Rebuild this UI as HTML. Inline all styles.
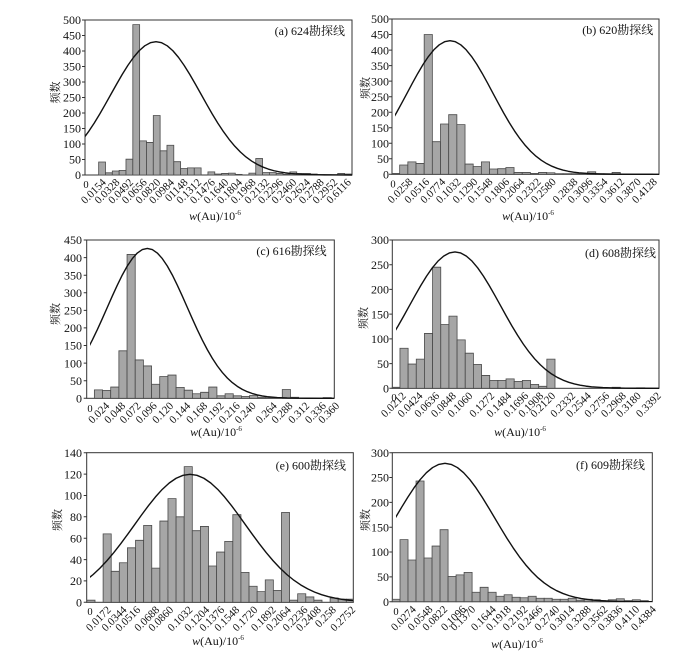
<!DOCTYPE html>
<html><head><meta charset="utf-8">
<style>
html,body{margin:0;padding:0;background:#fff;}
svg{display:block;}
.xt{font-family:"Liberation Serif","Noto Serif CJK SC",serif;font-size:11px;text-anchor:end;fill:#111;}
.x0{font-family:"Liberation Serif","Noto Serif CJK SC",serif;font-size:10.5px;text-anchor:middle;fill:#111;}
.yt{font-family:"Liberation Serif","Noto Serif CJK SC",serif;font-size:12px;text-anchor:end;fill:#111;}
.tt{font-family:"Liberation Serif","Noto Serif CJK SC",serif;font-size:12px;text-anchor:end;fill:#111;}
.at{font-family:"Liberation Serif","Noto Serif CJK SC",serif;font-size:12px;text-anchor:middle;fill:#111;}
.yl{font-family:"Liberation Serif","Noto Serif CJK SC",serif;font-size:11px;text-anchor:middle;fill:#111;}
.bars rect{fill:#a6a6a6;stroke:#4a4a4a;stroke-width:0.8;vector-effect:non-scaling-stroke;}
.cv{fill:none;stroke:#111;stroke-width:1.4;vector-effect:non-scaling-stroke;stroke-linejoin:round;}
.fr{fill:#fff;stroke:#333;stroke-width:1;}
.tk{stroke:#333;stroke-width:1;fill:none;}
</style></head>
<body>
<svg width="700" height="657" viewBox="0 0 700 657" xmlns="http://www.w3.org/2000/svg">
<defs>
<clipPath id="ca"><rect x="85" y="15" width="267" height="161"/></clipPath>
<clipPath id="cb"><rect x="395" y="14" width="264" height="161"/></clipPath>
<clipPath id="cc"><rect x="90" y="235" width="244" height="164"/></clipPath>
<clipPath id="cd"><rect x="396" y="235" width="263" height="154"/></clipPath>
<clipPath id="ce"><rect x="90" y="448" width="263" height="155"/></clipPath>
<clipPath id="cf"><rect x="396" y="448" width="256" height="154"/></clipPath>
</defs>

<!-- ================= Panel A ================= -->
<rect class="fr" x="85" y="20" width="267" height="155"/>
<g class="bars" transform="translate(85,175) scale(6.83,-0.31)">
<rect x="2" y="0" width="1" height="42"/><rect x="3" y="0" width="1" height="7"/><rect x="4" y="0" width="1" height="13"/><rect x="5" y="0" width="1" height="15"/><rect x="6" y="0" width="1" height="51"/><rect x="7" y="0" width="1" height="485"/><rect x="8" y="0" width="1" height="110"/><rect x="9" y="0" width="1" height="105"/><rect x="10" y="0" width="1" height="192"/><rect x="11" y="0" width="1" height="78"/><rect x="12" y="0" width="1" height="96"/><rect x="13" y="0" width="1" height="43"/><rect x="14" y="0" width="1" height="21"/><rect x="15" y="0" width="1" height="23"/><rect x="16" y="0" width="1" height="23"/><rect x="18" y="0" width="1" height="10"/><rect x="19" y="0" width="1" height="3"/><rect x="20" y="0" width="1" height="5"/><rect x="21" y="0" width="1" height="6"/><rect x="22" y="0" width="1" height="2"/><rect x="24" y="0" width="1" height="6"/><rect x="25" y="0" width="1" height="53"/><rect x="26" y="0" width="1" height="8"/><rect x="27" y="0" width="1" height="8"/><rect x="28" y="0" width="1" height="5"/><rect x="29" y="0" width="1" height="2"/><rect x="30" y="0" width="1" height="10"/><rect x="31" y="0" width="1" height="5"/><rect x="32" y="0" width="1" height="5"/><rect x="33" y="0" width="1" height="3"/><rect x="34" y="0" width="1" height="1"/><rect x="35" y="0" width="1" height="1"/><rect x="36" y="0" width="1" height="1"/><rect x="37" y="0" width="1" height="5"/><rect x="38" y="0" width="1" height="3"/>
</g>
<g clip-path="url(#ca)"><path class="cv" transform="translate(156,175) scale(45,-133.3)" d="M-3,0.0111 L-2.875,0.016 -2.75,0.0228 -2.625,0.0319 -2.5,0.0439 -2.375,0.0596 -2.25,0.0796 -2.125,0.1046 -2,0.1353 -1.875,0.1724 -1.75,0.2163 -1.625,0.2671 -1.5,0.3247 -1.375,0.3886 -1.25,0.4578 -1.125,0.5311 -1,0.6065 -0.875,0.6819 -0.75,0.7548 -0.625,0.8226 -0.5,0.8825 -0.375,0.9321 -0.25,0.9692 -0.125,0.9922 0,1 0.125,0.9922 0.25,0.9692 0.375,0.9321 0.5,0.8825 0.625,0.8226 0.75,0.7548 0.875,0.6819 1,0.6065 1.125,0.5311 1.25,0.4578 1.375,0.3886 1.5,0.3247 1.625,0.2671 1.75,0.2163 1.875,0.1724 2,0.1353 2.125,0.1046 2.25,0.0796 2.375,0.0596 2.5,0.0439 2.625,0.0319 2.75,0.0228 2.875,0.016 3,0.0111 3.25,0.0051 3.5,0.0022 3.75,0.0009 4,0.0003 4.5,0 6,0"/></g>
<path class="tk" d="M82,175h3M82,159.5h3M82,144h3M82,128.5h3M82,113h3M82,97.5h3M82,82h3M82,66.5h3M82,51h3M82,35.5h3M82,20h3"/>
<g class="yt">
<text x="81" y="179.2">0</text><text x="81" y="163.7">50</text><text x="81" y="148.2">100</text><text x="81" y="132.7">150</text><text x="81" y="117.2">200</text><text x="81" y="101.7">250</text><text x="81" y="86.2">300</text><text x="81" y="70.7">350</text><text x="81" y="55.2">400</text><text x="81" y="39.7">450</text><text x="81" y="24.2">500</text>
</g>
<text class="x0" x="86" y="188">0</text>
<g class="xt">
<text transform="translate(106.7,183) rotate(-45)">0.0154</text>
<text transform="translate(120.3,183) rotate(-45)">0.0328</text>
<text transform="translate(133.9,183) rotate(-45)">0.0492</text>
<text transform="translate(147.5,183) rotate(-45)">0.0656</text>
<text transform="translate(161.1,183) rotate(-45)">0.0820</text>
<text transform="translate(174.8,183) rotate(-45)">0.0984</text>
<text transform="translate(188.4,183) rotate(-45)">01148</text>
<text transform="translate(202,183) rotate(-45)">0.1312</text>
<text transform="translate(215.6,183) rotate(-45)">0.1476</text>
<text transform="translate(229.2,183) rotate(-45)">0.1640</text>
<text transform="translate(242.8,183) rotate(-45)">0.1804</text>
<text transform="translate(256.4,183) rotate(-45)">0.1968</text>
<text transform="translate(270,183) rotate(-45)">0.2132</text>
<text transform="translate(283.6,183) rotate(-45)">0.2296</text>
<text transform="translate(297.2,183) rotate(-45)">0.2460</text>
<text transform="translate(310.8,183) rotate(-45)">0.2624</text>
<text transform="translate(324.5,183) rotate(-45)">0.2788</text>
<text transform="translate(338.1,183) rotate(-45)">0.2952</text>
<text transform="translate(351.7,183) rotate(-45)">0.6116</text>
</g>
<text class="tt" x="345" y="35">(a) 624勘探线</text>
<text class="at" x="215" y="220"><tspan font-style="italic">w</tspan>(Au)/10<tspan font-size="7" dy="-5">-6</tspan></text>
<text class="yl" transform="translate(59,92.5) rotate(-90)">频数</text>

<!-- ================= Panel B ================= -->
<rect class="fr" x="392" y="19" width="267" height="155.3"/>
<g class="bars" transform="translate(391.5,174.3) scale(8.17,-0.3106)">
<rect x="0.06" y="0" width="0.94" height="3"/><rect x="1" y="0" width="1" height="30"/><rect x="2" y="0" width="1" height="40"/><rect x="3" y="0" width="1" height="35"/><rect x="4" y="0" width="1" height="450"/><rect x="5" y="0" width="1" height="105"/><rect x="6" y="0" width="1" height="162"/><rect x="7" y="0" width="1" height="192"/><rect x="8" y="0" width="1" height="160"/><rect x="9" y="0" width="1" height="33"/><rect x="10" y="0" width="1" height="25"/><rect x="11" y="0" width="1" height="40"/><rect x="12" y="0" width="1" height="17"/><rect x="13" y="0" width="1" height="18"/><rect x="14" y="0" width="1" height="22"/><rect x="15" y="0" width="1" height="6"/><rect x="16" y="0" width="1" height="6"/><rect x="17" y="0" width="1" height="3"/><rect x="18" y="0" width="1" height="6"/><rect x="19" y="0" width="1" height="5"/><rect x="20" y="0" width="1" height="2"/><rect x="21" y="0" width="1" height="2"/><rect x="22" y="0" width="1" height="2"/><rect x="23" y="0" width="1" height="1"/><rect x="24" y="0" width="1" height="8"/><rect x="25" y="0" width="1" height="2"/><rect x="26" y="0" width="1" height="2"/><rect x="27" y="0" width="1" height="6"/><rect x="28" y="0" width="1" height="1"/><rect x="29" y="0" width="1" height="1"/><rect x="30" y="0" width="1" height="1"/><rect x="31" y="0" width="1" height="1"/>
</g>
<g clip-path="url(#cb)"><path class="cv" transform="translate(450,174.3) scale(43,-133.6)" d="M-3,0.0111 L-2.875,0.016 -2.75,0.0228 -2.625,0.0319 -2.5,0.0439 -2.375,0.0596 -2.25,0.0796 -2.125,0.1046 -2,0.1353 -1.875,0.1724 -1.75,0.2163 -1.625,0.2671 -1.5,0.3247 -1.375,0.3886 -1.25,0.4578 -1.125,0.5311 -1,0.6065 -0.875,0.6819 -0.75,0.7548 -0.625,0.8226 -0.5,0.8825 -0.375,0.9321 -0.25,0.9692 -0.125,0.9922 0,1 0.125,0.9922 0.25,0.9692 0.375,0.9321 0.5,0.8825 0.625,0.8226 0.75,0.7548 0.875,0.6819 1,0.6065 1.125,0.5311 1.25,0.4578 1.375,0.3886 1.5,0.3247 1.625,0.2671 1.75,0.2163 1.875,0.1724 2,0.1353 2.125,0.1046 2.25,0.0796 2.375,0.0596 2.5,0.0439 2.625,0.0319 2.75,0.0228 2.875,0.016 3,0.0111 3.25,0.0051 3.5,0.0022 3.75,0.0009 4,0.0003 4.5,0 7,0"/></g>
<path class="tk" d="M389,174.3h3M389,158.8h3M389,143.2h3M389,127.7h3M389,112.2h3M389,96.7h3M389,81.1h3M389,65.6h3M389,50.1h3M389,34.5h3M389,19h3"/>
<g class="yt">
<text x="389" y="178.5">0</text><text x="389" y="163">50</text><text x="389" y="147.4">100</text><text x="389" y="131.9">150</text><text x="389" y="116.4">200</text><text x="389" y="100.9">250</text><text x="389" y="85.3">300</text><text x="389" y="69.8">350</text><text x="389" y="54.3">400</text><text x="389" y="38.7">450</text><text x="389" y="23.2">500</text>
</g>
<text class="x0" x="393" y="187.5">0</text>
<g class="xt">
<text transform="translate(413.3,182.5) rotate(-45)">0.0258</text>
<text transform="translate(430,182.5) rotate(-45)">0.0516</text>
<text transform="translate(446,182.5) rotate(-45)">0.0774</text>
<text transform="translate(461.7,182.5) rotate(-45)">0.1032</text>
<text transform="translate(478.3,182.5) rotate(-45)">0.1290</text>
<text transform="translate(493.3,182.5) rotate(-45)">0.1548</text>
<text transform="translate(510,182.5) rotate(-45)">0.1806</text>
<text transform="translate(525,182.5) rotate(-45)">0.2064</text>
<text transform="translate(541.7,182.5) rotate(-45)">0.2322</text>
<text transform="translate(556.7,182.5) rotate(-45)">0.2580</text>
<text transform="translate(578.3,182.5) rotate(-45)">0.2838</text>
<text transform="translate(593.3,182.5) rotate(-45)">0.3096</text>
<text transform="translate(608.3,182.5) rotate(-45)">0.3354</text>
<text transform="translate(625,182.5) rotate(-45)">0.3612</text>
<text transform="translate(641.7,182.5) rotate(-45)">0.3870</text>
<text transform="translate(657.7,182.5) rotate(-45)">0.4128</text>
</g>
<text class="tt" x="653.3" y="34">(b) 620勘探线</text>
<text class="at" x="528" y="220"><tspan font-style="italic">w</tspan>(Au)/10<tspan font-size="7" dy="-5">-6</tspan></text>
<text class="yl" transform="translate(369,88) rotate(-90)">频数</text>

<!-- ================= Panel C ================= -->
<rect class="fr" x="86.7" y="240" width="247.6" height="158.3"/>
<g class="bars" transform="translate(86.2,398.3) scale(8.17,-0.3518)">
<rect x="1" y="0" width="1" height="24"/><rect x="2" y="0" width="1" height="22"/><rect x="3" y="0" width="1" height="32"/><rect x="4" y="0" width="1" height="135"/><rect x="5" y="0" width="1" height="409"/><rect x="6" y="0" width="1" height="109"/><rect x="7" y="0" width="1" height="92"/><rect x="8" y="0" width="1" height="40"/><rect x="9" y="0" width="1" height="62"/><rect x="10" y="0" width="1" height="66"/><rect x="11" y="0" width="1" height="31"/><rect x="12" y="0" width="1" height="23"/><rect x="13" y="0" width="1" height="13"/><rect x="14" y="0" width="1" height="17"/><rect x="15" y="0" width="1" height="32"/><rect x="16" y="0" width="1" height="7"/><rect x="17" y="0" width="1" height="13"/><rect x="18" y="0" width="1" height="7"/><rect x="19" y="0" width="1" height="5"/><rect x="20" y="0" width="1" height="8"/><rect x="21" y="0" width="1" height="3"/><rect x="22" y="0" width="1" height="1"/><rect x="24" y="0" width="1" height="25"/><rect x="25" y="0" width="1" height="3"/><rect x="29" y="0" width="1" height="2"/>
</g>
<g clip-path="url(#cc)"><path class="cv" transform="translate(147.3,398.3) scale(40,-149.9)" d="M-3,0.0111 L-2.875,0.016 -2.75,0.0228 -2.625,0.0319 -2.5,0.0439 -2.375,0.0596 -2.25,0.0796 -2.125,0.1046 -2,0.1353 -1.875,0.1724 -1.75,0.2163 -1.625,0.2671 -1.5,0.3247 -1.375,0.3886 -1.25,0.4578 -1.125,0.5311 -1,0.6065 -0.875,0.6819 -0.75,0.7548 -0.625,0.8226 -0.5,0.8825 -0.375,0.9321 -0.25,0.9692 -0.125,0.9922 0,1 0.125,0.9922 0.25,0.9692 0.375,0.9321 0.5,0.8825 0.625,0.8226 0.75,0.7548 0.875,0.6819 1,0.6065 1.125,0.5311 1.25,0.4578 1.375,0.3886 1.5,0.3247 1.625,0.2671 1.75,0.2163 1.875,0.1724 2,0.1353 2.125,0.1046 2.25,0.0796 2.375,0.0596 2.5,0.0439 2.625,0.0319 2.75,0.0228 2.875,0.016 3,0.0111 3.25,0.0051 3.5,0.0022 3.75,0.0009 4,0.0003 4.5,0 7,0"/></g>
<path class="tk" d="M83.7,398.3h3M83.7,380.7h3M83.7,363.1h3M83.7,345.5h3M83.7,327.9h3M83.7,310.35h3M83.7,292.8h3M83.7,275.2h3M83.7,257.6h3M83.7,240h3"/>
<g class="yt">
<text x="82" y="402.5">0</text><text x="82" y="384.9">50</text><text x="82" y="367.3">100</text><text x="82" y="349.7">150</text><text x="82" y="332.1">200</text><text x="82" y="314.6">250</text><text x="82" y="297">300</text><text x="82" y="279.4">350</text><text x="82" y="261.8">400</text><text x="82" y="244.2">450</text>
</g>
<text class="x0" x="90" y="412">0</text>
<g class="xt">
<text transform="translate(110,406.5) rotate(-45)">0.024</text>
<text transform="translate(126,406.5) rotate(-45)">0.048</text>
<text transform="translate(141.5,406.5) rotate(-45)">0.072</text>
<text transform="translate(157.5,406.5) rotate(-45)">0.096</text>
<text transform="translate(174,406.5) rotate(-45)">0.120</text>
<text transform="translate(191,406.5) rotate(-45)">0.144</text>
<text transform="translate(208,406.5) rotate(-45)">0.168</text>
<text transform="translate(224.5,406.5) rotate(-45)">0.192</text>
<text transform="translate(240.5,406.5) rotate(-45)">0.216</text>
<text transform="translate(256.5,406.5) rotate(-45)">0.240</text>
<text transform="translate(277.5,406.5) rotate(-45)">0.264</text>
<text transform="translate(293.3,406.5) rotate(-45)">0.288</text>
<text transform="translate(310,406.5) rotate(-45)">0.312</text>
<text transform="translate(326.7,406.5) rotate(-45)">0.336</text>
<text transform="translate(340,406.5) rotate(-45)">0.360</text>
</g>
<text class="tt" x="326.7" y="255">(c) 616勘探线</text>
<text class="at" x="216" y="436"><tspan font-style="italic">w</tspan>(Au)/10<tspan font-size="7" dy="-5">-6</tspan></text>
<text class="yl" transform="translate(59,314) rotate(-90)">频数</text>

<!-- ================= Panel D ================= -->
<rect class="fr" x="392.3" y="240" width="266.7" height="148.3"/>
<g class="bars" transform="translate(391.8,388.3) scale(8.16,-0.4943)">
<rect x="0.06" y="0" width="0.94" height="2"/><rect x="1" y="0" width="1" height="81"/><rect x="2" y="0" width="1" height="49"/><rect x="3" y="0" width="1" height="59"/><rect x="4" y="0" width="1" height="111"/><rect x="5" y="0" width="1" height="245"/><rect x="6" y="0" width="1" height="129"/><rect x="7" y="0" width="1" height="146"/><rect x="8" y="0" width="1" height="98"/><rect x="9" y="0" width="1" height="71"/><rect x="10" y="0" width="1" height="48"/><rect x="11" y="0" width="1" height="26"/><rect x="12" y="0" width="1" height="16"/><rect x="13" y="0" width="1" height="16"/><rect x="14" y="0" width="1" height="19"/><rect x="15" y="0" width="1" height="14"/><rect x="16" y="0" width="1" height="16"/><rect x="17" y="0" width="1" height="8"/><rect x="18" y="0" width="1" height="4"/><rect x="19" y="0" width="1" height="59"/><rect x="27" y="0" width="1" height="2"/><rect x="30" y="0" width="1" height="1"/>
</g>
<g clip-path="url(#cd)"><path class="cv" transform="translate(455,388.3) scale(45.5,-136.4)" d="M-3,0.0111 L-2.875,0.016 -2.75,0.0228 -2.625,0.0319 -2.5,0.0439 -2.375,0.0596 -2.25,0.0796 -2.125,0.1046 -2,0.1353 -1.875,0.1724 -1.75,0.2163 -1.625,0.2671 -1.5,0.3247 -1.375,0.3886 -1.25,0.4578 -1.125,0.5311 -1,0.6065 -0.875,0.6819 -0.75,0.7548 -0.625,0.8226 -0.5,0.8825 -0.375,0.9321 -0.25,0.9692 -0.125,0.9922 0,1 0.125,0.9922 0.25,0.9692 0.375,0.9321 0.5,0.8825 0.625,0.8226 0.75,0.7548 0.875,0.6819 1,0.6065 1.125,0.5311 1.25,0.4578 1.375,0.3886 1.5,0.3247 1.625,0.2671 1.75,0.2163 1.875,0.1724 2,0.1353 2.125,0.1046 2.25,0.0796 2.375,0.0596 2.5,0.0439 2.625,0.0319 2.75,0.0228 2.875,0.016 3,0.0111 3.25,0.0051 3.5,0.0022 3.75,0.0009 4,0.0003 4.5,0 7,0"/></g>
<path class="tk" d="M389.3,388.3h3M389.3,363.6h3M389.3,338.9h3M389.3,314.1h3M389.3,289.4h3M389.3,264.7h3M389.3,240h3"/>
<g class="yt">
<text x="389" y="392.5">0</text><text x="389" y="367.8">50</text><text x="389" y="343.1">100</text><text x="389" y="318.3">150</text><text x="389" y="293.6">200</text><text x="389" y="268.9">250</text><text x="389" y="244.2">300</text>
</g>
<text class="x0" x="394" y="401">0</text>
<g class="xt">
<text transform="translate(406.7,396.5) rotate(-45)">0.0212</text>
<text transform="translate(423.3,396.5) rotate(-45)">0.0424</text>
<text transform="translate(440,396.5) rotate(-45)">0.0636</text>
<text transform="translate(456.7,396.5) rotate(-45)">0.0848</text>
<text transform="translate(473.3,396.5) rotate(-45)">0.1060</text>
<text transform="translate(495,396.5) rotate(-45)">0.1272</text>
<text transform="translate(512,396.5) rotate(-45)">0.1484</text>
<text transform="translate(529,396.5) rotate(-45)">0.1696</text>
<text transform="translate(544,396.5) rotate(-45)">0.1908</text>
<text transform="translate(556,396.5) rotate(-45)">0.2120</text>
<text transform="translate(576,396.5) rotate(-45)">0.2332</text>
<text transform="translate(591.7,396.5) rotate(-45)">0.2544</text>
<text transform="translate(610,396.5) rotate(-45)">0.2756</text>
<text transform="translate(626.7,396.5) rotate(-45)">0.2968</text>
<text transform="translate(641.7,396.5) rotate(-45)">0.3180</text>
<text transform="translate(661.7,396.5) rotate(-45)">0.3392</text>
</g>
<text class="tt" x="656" y="257">(d) 608勘探线</text>
<text class="at" x="520" y="436"><tspan font-style="italic">w</tspan>(Au)/10<tspan font-size="7" dy="-5">-6</tspan></text>
<text class="yl" transform="translate(367,318) rotate(-90)">频数</text>

<!-- ================= Panel E ================= -->
<rect class="fr" x="86.7" y="452.7" width="266.6" height="149.6"/>
<g class="bars" transform="translate(86.9,602.3) scale(8.107,-1.0686)">
<rect x="0" y="0" width="1" height="2"/><rect x="2" y="0" width="1" height="64"/><rect x="3" y="0" width="1" height="29"/><rect x="4" y="0" width="1" height="37"/><rect x="5" y="0" width="1" height="51"/><rect x="6" y="0" width="1" height="58"/><rect x="7" y="0" width="1" height="72"/><rect x="8" y="0" width="1" height="32"/><rect x="9" y="0" width="1" height="76"/><rect x="10" y="0" width="1" height="97"/><rect x="11" y="0" width="1" height="80"/><rect x="12" y="0" width="1" height="127"/><rect x="13" y="0" width="1" height="67"/><rect x="14" y="0" width="1" height="71"/><rect x="15" y="0" width="1" height="34"/><rect x="16" y="0" width="1" height="47"/><rect x="17" y="0" width="1" height="57"/><rect x="18" y="0" width="1" height="82"/><rect x="19" y="0" width="1" height="28"/><rect x="20" y="0" width="1" height="15"/><rect x="21" y="0" width="1" height="10"/><rect x="22" y="0" width="1" height="21"/><rect x="23" y="0" width="1" height="11"/><rect x="24" y="0" width="1" height="84"/><rect x="25" y="0" width="1" height="2"/><rect x="26" y="0" width="1" height="8"/><rect x="27" y="0" width="1" height="5"/><rect x="28" y="0" width="1" height="2"/><rect x="30" y="0" width="1" height="4"/><rect x="31" y="0" width="1" height="3"/><rect x="32" y="0" width="0.86" height="3"/>
</g>
<g clip-path="url(#ce)"><path class="cv" transform="translate(190,602.3) scale(55.4,-128)" d="M-3,0.0111 L-2.875,0.016 -2.75,0.0228 -2.625,0.0319 -2.5,0.0439 -2.375,0.0596 -2.25,0.0796 -2.125,0.1046 -2,0.1353 -1.875,0.1724 -1.75,0.2163 -1.625,0.2671 -1.5,0.3247 -1.375,0.3886 -1.25,0.4578 -1.125,0.5311 -1,0.6065 -0.875,0.6819 -0.75,0.7548 -0.625,0.8226 -0.5,0.8825 -0.375,0.9321 -0.25,0.9692 -0.125,0.9922 0,1 0.125,0.9922 0.25,0.9692 0.375,0.9321 0.5,0.8825 0.625,0.8226 0.75,0.7548 0.875,0.6819 1,0.6065 1.125,0.5311 1.25,0.4578 1.375,0.3886 1.5,0.3247 1.625,0.2671 1.75,0.2163 1.875,0.1724 2,0.1353 2.125,0.1046 2.25,0.0796 2.375,0.0596 2.5,0.0439 2.625,0.0319 2.75,0.0228 2.875,0.016 3,0.0111 3.25,0.0051 3.5,0.0022 3.75,0.0009 4,0.0003 4.5,0 7,0"/></g>
<path class="tk" d="M83.7,602.3h3M83.7,580.9h3M83.7,559.6h3M83.7,538.2h3M83.7,516.8h3M83.7,495.5h3M83.7,474.1h3M83.7,452.7h3"/>
<g class="yt">
<text x="82" y="606.5">0</text><text x="82" y="585.1">20</text><text x="82" y="563.8">40</text><text x="82" y="542.4">60</text><text x="82" y="521">80</text><text x="82" y="499.7">100</text><text x="82" y="478.3">120</text><text x="82" y="456.9">140</text>
</g>
<text class="x0" x="90" y="615">0</text>
<g class="xt">
<text transform="translate(111.7,610.5) rotate(-45)">0.0172</text>
<text transform="translate(127.3,610.5) rotate(-45)">0.0344</text>
<text transform="translate(141,610.5) rotate(-45)">0.0516</text>
<text transform="translate(160,610.5) rotate(-45)">0.0688</text>
<text transform="translate(174,610.5) rotate(-45)">0.0860</text>
<text transform="translate(193.3,610.5) rotate(-45)">0.1032</text>
<text transform="translate(210,610.5) rotate(-45)">0.1204</text>
<text transform="translate(225,610.5) rotate(-45)">0.1376</text>
<text transform="translate(240,610.5) rotate(-45)">0.1548</text>
<text transform="translate(258.3,610.5) rotate(-45)">0.1720</text>
<text transform="translate(276.7,610.5) rotate(-45)">0.1892</text>
<text transform="translate(291.7,610.5) rotate(-45)">0.2064</text>
<text transform="translate(308.3,610.5) rotate(-45)">0.2236</text>
<text transform="translate(321.7,610.5) rotate(-45)">0.2408</text>
<text transform="translate(336.7,610.5) rotate(-45)">0.258</text>
<text transform="translate(356,610.5) rotate(-45)">0.2752</text>
</g>
<text class="tt" x="346" y="469.5">(e) 600勘探线</text>
<text class="at" x="218" y="645"><tspan font-style="italic">w</tspan>(Au)/10<tspan font-size="7" dy="-5">-6</tspan></text>
<text class="yl" transform="translate(61,520) rotate(-90)">频数</text>

<!-- ================= Panel F ================= -->
<rect class="fr" x="392.3" y="452.7" width="260" height="149"/>
<g class="bars" transform="translate(392,601.7) scale(8.01,-0.4967)">
<rect x="0.04" y="0" width="0.96" height="5"/><rect x="1" y="0" width="1" height="125"/><rect x="2" y="0" width="1" height="84"/><rect x="3" y="0" width="1" height="243"/><rect x="4" y="0" width="1" height="88"/><rect x="5" y="0" width="1" height="112"/><rect x="6" y="0" width="1" height="145"/><rect x="7" y="0" width="1" height="51"/><rect x="8" y="0" width="1" height="54"/><rect x="9" y="0" width="1" height="59"/><rect x="10" y="0" width="1" height="19"/><rect x="11" y="0" width="1" height="29"/><rect x="12" y="0" width="1" height="19"/><rect x="13" y="0" width="1" height="11"/><rect x="14" y="0" width="1" height="14"/><rect x="15" y="0" width="1" height="9"/><rect x="16" y="0" width="1" height="8"/><rect x="17" y="0" width="1" height="11"/><rect x="18" y="0" width="1" height="7"/><rect x="19" y="0" width="1" height="7"/><rect x="20" y="0" width="1" height="5"/><rect x="21" y="0" width="1" height="5"/><rect x="22" y="0" width="1" height="7"/><rect x="23" y="0" width="1" height="3"/><rect x="24" y="0" width="1" height="5"/><rect x="25" y="0" width="1" height="4"/><rect x="26" y="0" width="1" height="2"/><rect x="27" y="0" width="1" height="4"/><rect x="28" y="0" width="1" height="6"/><rect x="29" y="0" width="1" height="2"/><rect x="30" y="0" width="1" height="4"/><rect x="31" y="0" width="1" height="2"/>
</g>
<g clip-path="url(#cf)"><path class="cv" transform="translate(445,601.7) scale(49.6,-138.4)" d="M-3,0.0111 L-2.875,0.016 -2.75,0.0228 -2.625,0.0319 -2.5,0.0439 -2.375,0.0596 -2.25,0.0796 -2.125,0.1046 -2,0.1353 -1.875,0.1724 -1.75,0.2163 -1.625,0.2671 -1.5,0.3247 -1.375,0.3886 -1.25,0.4578 -1.125,0.5311 -1,0.6065 -0.875,0.6819 -0.75,0.7548 -0.625,0.8226 -0.5,0.8825 -0.375,0.9321 -0.25,0.9692 -0.125,0.9922 0,1 0.125,0.9922 0.25,0.9692 0.375,0.9321 0.5,0.8825 0.625,0.8226 0.75,0.7548 0.875,0.6819 1,0.6065 1.125,0.5311 1.25,0.4578 1.375,0.3886 1.5,0.3247 1.625,0.2671 1.75,0.2163 1.875,0.1724 2,0.1353 2.125,0.1046 2.25,0.0796 2.375,0.0596 2.5,0.0439 2.625,0.0319 2.75,0.0228 2.875,0.016 3,0.0111 3.25,0.0051 3.5,0.0022 3.75,0.0009 4,0.0003 4.5,0 7,0"/></g>
<path class="tk" d="M389.3,601.7h3M389.3,576.9h3M389.3,552h3M389.3,527.2h3M389.3,502.4h3M389.3,477.5h3M389.3,452.7h3"/>
<g class="yt">
<text x="389" y="605.9">0</text><text x="389" y="581.1">50</text><text x="389" y="556.2">100</text><text x="389" y="531.4">150</text><text x="389" y="506.6">200</text><text x="389" y="481.7">250</text><text x="389" y="456.9">300</text>
</g>
<text class="x0" x="396" y="615">0</text>
<g class="xt">
<text transform="translate(416.7,610) rotate(-45)">0.0274</text>
<text transform="translate(433.3,610) rotate(-45)">0.0548</text>
<text transform="translate(448,610) rotate(-45)">0.0822</text>
<text transform="translate(466.7,610) rotate(-45)">0.1096</text>
<text transform="translate(476,610) rotate(-45)">0.1370</text>
<text transform="translate(496.7,610) rotate(-45)">0.1644</text>
<text transform="translate(511.7,610) rotate(-45)">0.1918</text>
<text transform="translate(528.3,610) rotate(-45)">0.2192</text>
<text transform="translate(543.3,610) rotate(-45)">0.2466</text>
<text transform="translate(560,610) rotate(-45)">0.2740</text>
<text transform="translate(575,610) rotate(-45)">0.3014</text>
<text transform="translate(591.7,610) rotate(-45)">0.3288</text>
<text transform="translate(608.3,610) rotate(-45)">0.3562</text>
<text transform="translate(623.3,610) rotate(-45)">0.3836</text>
<text transform="translate(640,610) rotate(-45)">0.4110</text>
<text transform="translate(656.7,610) rotate(-45)">0.4384</text>
</g>
<text class="tt" x="645" y="469">(f) 609勘探线</text>
<text class="at" x="517" y="648"><tspan font-style="italic">w</tspan>(Au)/10<tspan font-size="7" dy="-5">-6</tspan></text>
<text class="yl" transform="translate(369,520) rotate(-90)">频数</text>
</svg>
</body></html>
